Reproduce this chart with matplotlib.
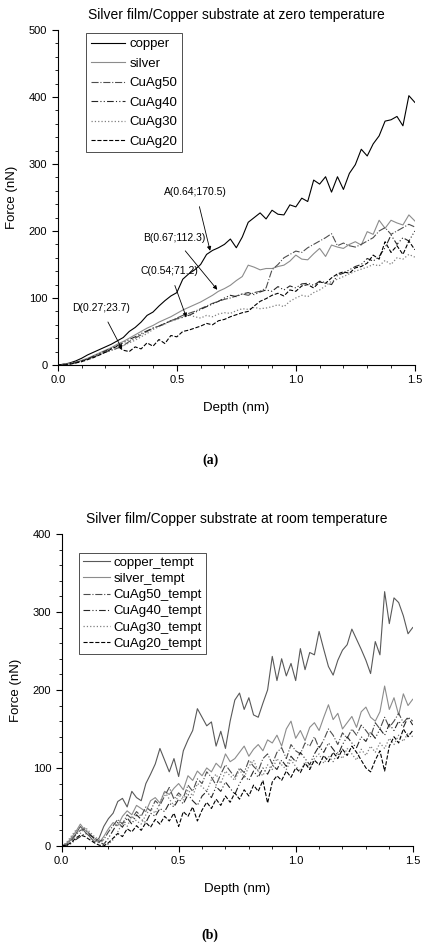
import numpy as np
import matplotlib
matplotlib.use("Agg")
import matplotlib.pyplot as plt
from matplotlib.ticker import MultipleLocator

plt.rcParams['font.family'] = ['Liberation Sans', 'DejaVu Sans']

# ---- (a) zero temperature, depth step 0.025 nm ----
depth_a = np.round(np.arange(61) * 0.025, 3)

copper = [0, 1, 3, 6, 10, 15, 19, 23, 27, 31, 36, 41, 50, 56, 64, 74, 79, 88, 96, 103,
          108, 128, 136, 142, 150, 165, 171, 175, 180, 188, 175, 191, 213, 220, 227, 218, 231, 225, 224, 239,
          236, 249, 244, 276, 270, 281, 258, 281, 262, 286, 299, 322, 312, 330, 342, 364, 366, 371, 357, 402,
          392]
silver = [0, 1, 2, 4, 7, 10, 14, 18, 22, 26, 31, 35, 40, 45, 50, 55, 59, 64, 68, 72,
          77, 82, 86, 90, 94, 99, 104, 110, 114, 119, 126, 132, 149, 146, 142, 144, 144, 147, 149, 155,
          164, 158, 157, 166, 174, 162, 179, 176, 174, 180, 184, 179, 199, 195, 216, 204, 216, 212, 209, 224,
          215]
cuag50 = [0, 1, 2, 3, 6, 9, 12, 16, 19, 22, 25, 29, 35, 40, 45, 50, 55, 58, 62, 66,
          70, 74, 77, 80, 84, 88, 92, 95, 98, 100, 103, 106, 104, 108, 110, 115, 142, 150, 160, 165,
          170, 168, 175, 180, 185, 190, 196, 178, 182, 178, 176, 180, 185, 190, 200, 205, 195, 200, 205, 210,
          206]
cuag40 = [0, 1, 2, 4, 6, 9, 13, 17, 21, 25, 29, 33, 38, 42, 47, 51, 55, 58, 62, 66,
          69, 71, 74, 78, 83, 87, 91, 95, 100, 104, 102, 106, 108, 105, 109, 112, 110, 117, 112, 118,
          115, 121, 122, 119, 125, 123, 120, 134, 137, 142, 147, 150, 159, 155, 162, 175, 194, 180, 190, 185,
          200]
cuag30 = [0, 1, 2, 3, 5, 8, 11, 15, 19, 22, 25, 29, 33, 37, 42, 47, 53, 57, 61, 65,
          68, 72, 75, 72, 70, 74, 72, 76, 78, 77, 81, 84, 83, 86, 84, 85, 87, 90, 87, 95,
          100, 104, 102, 108, 112, 118, 125, 128, 132, 136, 140, 143, 146, 150, 148, 156, 150, 160, 158, 165,
          161]
cuag20 = [0, 0, 1, 3, 5, 8, 11, 15, 19, 24, 28, 22, 20, 27, 24, 33, 28, 38, 32, 44,
          42, 50, 52, 55, 58, 62, 60, 66, 68, 72, 75, 78, 80, 88, 95, 99, 104, 107, 103, 112,
          110, 118, 120, 115, 124, 122, 130, 136, 139, 137, 145, 147, 152, 164, 158, 184, 168, 178, 165, 185,
          172]

notes_a = ["A(0.64;170.5)", "B(0.67;112.3)", "C(0.54;71.2)", "D(0.27;23.7)"]
note_pts = [(0.64, 170.5), (0.67, 112.3), (0.54, 71.2), (0.27, 23.7)]
note_txt = [(0.58, 258), (0.49, 190), (0.47, 140), (0.18, 85)]

# ---- (b) room temperature, depth step 0.02 nm ----
depth_b = np.round(np.arange(76) * 0.02, 3)

copper_t = [0, 3, 8, 15, 25, 18, 12, 5, 10, 25, 35, 42, 57, 61, 50, 70, 62, 58, 80, 92,
            105, 125, 110, 95, 112, 89, 122, 136, 148, 176, 165, 154, 159, 128, 147, 125, 160, 187, 196, 175,
            190, 168, 165, 183, 200, 243, 212, 240, 218, 234, 212, 253, 226, 248, 245, 275, 252, 230, 219, 238,
            251, 258, 278, 265, 252, 238, 221, 262, 245, 326, 285, 318, 312, 295, 272, 280]
silver_t = [0, 2, 10, 18, 28, 20, 16, 8, 4, 12, 22, 30, 26, 38, 45, 40, 52, 48, 44, 58,
            62, 55, 70, 66, 74, 80, 72, 90, 84, 96, 90, 100, 95, 106, 100, 118, 108, 112, 120, 128,
            115, 124, 130, 122, 136, 132, 142, 128, 150, 160, 138, 148, 135, 152, 158, 148, 165, 181, 162, 170,
            150, 158, 166, 152, 172, 178, 165, 160, 172, 205, 175, 190, 168, 195, 180, 188]
cuag50_t = [0, 1, 6, 14, 20, 22, 15, 10, 6, 8, 18, 26, 34, 28, 40, 35, 44, 38, 50, 45,
            58, 52, 64, 75, 60, 68, 62, 78, 70, 86, 80, 95, 88, 78, 92, 104, 96, 88, 100, 94,
            110, 102, 96, 112, 118, 105, 120, 126, 112, 130, 122, 118, 132, 128, 140, 125, 136, 150, 142, 130,
            145, 138, 150, 142, 155, 148, 140, 158, 150, 165, 152, 160, 170, 158, 165, 160]
cuag40_t = [0, 0, 3, 8, 12, 16, 14, 10, 5, 2, 10, 20, 30, 24, 36, 28, 40, 34, 30, 42,
            38, 48, 44, 55, 50, 60, 54, 66, 58, 52, 64, 70, 62, 76, 70, 82, 74, 66, 80, 90,
            84, 96, 88, 100, 92, 104, 98, 110, 102, 115, 108, 120, 112, 104, 118, 128, 120, 132, 124, 116,
            130, 140, 132, 126, 140, 134, 146, 138, 150, 142, 156, 148, 160, 152, 165, 155]
cuag30_t = [0, 4, 12, 20, 16, 24, 18, 12, 8, 4, 2, 8, 18, 30, 25, 38, 32, 28, 40, 48,
            42, 55, 70, 60, 52, 66, 58, 72, 64, 80, 76, 70, 85, 92, 80, 96, 90, 84, 98, 88,
            102, 110, 96, 90, 104, 98, 112, 104, 98, 110, 102, 96, 108, 100, 112, 118, 106, 115, 108, 120,
            112, 125, 118, 110, 124, 116, 128, 120, 132, 125, 138, 130, 142, 134, 145, 140]
cuag20_t = [0, 1, 4, 10, 14, 12, 8, 4, 1, 0, 4, 10, 16, 12, 22, 18, 26, 20, 30, 24,
            34, 28, 38, 32, 42, 25, 44, 38, 50, 32, 46, 56, 48, 60, 52, 64, 56, 68, 60, 72,
            64, 78, 70, 84, 55, 82, 90, 84, 96, 88, 100, 94, 106, 98, 110, 104, 116, 108, 120, 112,
            124, 116, 128, 120, 110, 100, 95, 110, 122, 96, 128, 140, 132, 150, 140, 148]

styles = [dict(color='black', ls='-', lw=0.8),
          dict(color='0.55', ls='-', lw=0.8),
          dict(color='0.3', ls='-.', lw=0.8),
          dict(color='0.15', ls=(0, (6, 2, 1, 2, 1, 2)), lw=0.8),
          dict(color='0.5', ls=':', lw=0.9),
          dict(color='black', ls='--', lw=0.8)]

fig = plt.figure(figsize=(4.22, 9.47), dpi=100)
ax1 = fig.add_axes([0.137, 0.6146, 0.846, 0.3537])
ax2 = fig.add_axes([0.146, 0.1067, 0.832, 0.3295])


def style_axes(ax, ymax):
    ax.set_xlim(0, 1.5)
    ax.set_ylim(0, ymax)
    ax.spines['top'].set_visible(False)
    ax.spines['right'].set_visible(False)
    ax.xaxis.set_major_locator(MultipleLocator(0.5))
    ax.xaxis.set_minor_locator(MultipleLocator(0.1))
    ax.yaxis.set_major_locator(MultipleLocator(100))
    ax.yaxis.set_minor_locator(MultipleLocator(20))
    ax.tick_params(which='major', direction='out', length=4, width=0.8, labelsize=8)
    ax.tick_params(which='minor', direction='out', length=2, width=0.6)
    ax.xaxis.set_major_formatter(matplotlib.ticker.FormatStrFormatter('%.1f'))
    ax.set_xlabel('Depth (nm)', fontsize=9.5, labelpad=12)
    ax.set_ylabel('Force (nN)', fontsize=9.5, labelpad=8)


series_a = [copper, silver, cuag50, cuag40, cuag30, cuag20]
labels_a = ['copper', 'silver', 'CuAg50', 'CuAg40', 'CuAg30', 'CuAg20']
for ys, lab, st in zip(series_a, labels_a, styles):
    ax1.plot(depth_a, ys, label=lab, **st)
style_axes(ax1, 500)
ax1.set_title('Silver film/Copper substrate at zero temperature', fontsize=10, pad=8)
leg = ax1.legend(loc='upper left', bbox_to_anchor=(0.08, 0.99), fontsize=9.5, frameon=True,
                 fancybox=False, edgecolor='black', handlelength=2.6, handletextpad=0.3,
                 labelspacing=0.55, borderpad=0.35, borderaxespad=0)
leg.get_frame().set_linewidth(0.6)
for txt, pt, tp in zip(notes_a, note_pts, note_txt):
    ax1.annotate(txt, xy=pt, xytext=tp, fontsize=7.5, ha='center', va='center',
                 arrowprops=dict(arrowstyle='-|>', color='black', lw=0.6,
                                 mutation_scale=6, shrinkA=5, shrinkB=0))

series_b = [copper_t, silver_t, cuag50_t, cuag40_t, cuag30_t, cuag20_t]
labels_b = ['copper_tempt', 'silver_tempt', 'CuAg50_tempt', 'CuAg40_tempt', 'CuAg30_tempt', 'CuAg20_tempt']
styles_b = [dict(styles[0], color='0.35')] + styles[1:]
for ys, lab, st in zip(series_b, labels_b, styles_b):
    ax2.plot(depth_b, ys, label=lab, **st)
style_axes(ax2, 400)
ax2.set_title('Silver film/Copper substrate at room temperature', fontsize=10, pad=8)
leg2 = ax2.legend(loc='upper left', bbox_to_anchor=(0.05, 0.94), fontsize=9.5, frameon=True,
                  fancybox=False, edgecolor='black', handlelength=2.0, handletextpad=0.3,
                  labelspacing=0.3, borderpad=0.3, borderaxespad=0)
leg2.get_frame().set_linewidth(0.6)

fig.text(0.498, 1 - 460 / 947, '(a)', ha='center', va='center', fontsize=10,
         fontweight='bold', family=['Liberation Serif', 'DejaVu Serif'])
fig.text(0.498, 1 - 935 / 947, '(b)', ha='center', va='center', fontsize=10,
         fontweight='bold', family=['Liberation Serif', 'DejaVu Serif'])

fig.savefig('out.png', dpi=100)
